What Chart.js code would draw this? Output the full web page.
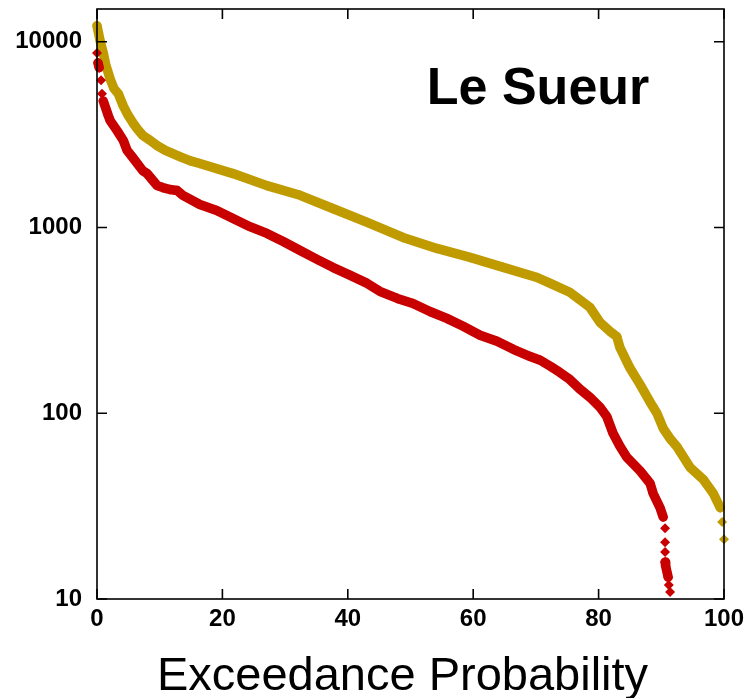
<!DOCTYPE html>
<html>
<head>
<meta charset="utf-8">
<script src="https://cdn.jsdelivr.net/npm/chart.js@4/dist/chart.umd.min.js"></script>
<style>
  html, body { margin: 0; padding: 0; background: #fff; }
  #wrap { width: 749px; height: 698px; }
</style>
</head>
<body>
<div id="wrap"><canvas id="c"></canvas></div>
<script>
// Exceedance curves (x = exceedance %, y = value, log axis)
const goldProb = [0, 0.5, 1.0, 1.4, 2.1, 2.7, 3.4, 4.2, 4.9, 5.7, 6.5, 7.3, 8.5, 9.6, 10.9, 12.1, 13.2, 14.8, 16.4,
  21.7, 27.1, 32.4, 37.6, 43.1, 48.8, 54.2, 59.5, 64.8, 70.2, 72.3, 75.4, 78.6, 80.2, 81.8, 82.9, 83.4, 85.0,
  86.6, 88.2, 89.3, 90.3, 91.4, 92.5, 94.6, 96.7, 98.3, 99.4, 99.7, 100];
const goldVals = [12200, 10100, 8700, 7500, 6300, 5600, 5250, 4500, 4050, 3670, 3370, 3130, 2940, 2760, 2600, 2500, 2410, 2290, 2210,
  1950, 1680, 1490, 1265, 1064, 884, 771, 690, 610, 538, 500, 448, 372, 309, 276, 259, 226, 175,
  143, 115, 100, 83, 73, 66, 51, 44, 37, 31, 26, 21];

const redProb = [0, 0.15, 0.35, 0.65, 0.8, 1.0, 1.8, 2.1, 3.2, 4.2, 4.8, 5.7, 7.3, 8.0, 9.6, 10.5, 11.6, 12.8, 13.7, 16.4,
  19.1, 21.7, 24.4, 27.1, 29.7, 32.4, 35.1, 37.6, 40.4, 43.1, 45.1, 47.9, 50.4, 53.1, 55.8, 58.4, 61.1, 63.8,
  66.4, 69.1, 70.7, 72.3, 73.8, 75.4, 77.0, 78.6, 80.2, 81.3, 82.3, 83.4, 84.5, 86.6, 88.2, 88.7, 89.8, 90.3,
  90.6, 90.6, 90.6, 90.6, 90.7, 91.1, 91.2, 91.4];
const redVals = [8700, 7700, 7250, 6200, 5250, 4800, 4000, 3760, 3320, 2940, 2600, 2380, 2020, 1950, 1680, 1640, 1600, 1580, 1490, 1330,
  1235, 1117, 1010, 929, 841, 752, 673, 610, 552, 500, 453, 415, 390, 353, 324, 294, 263, 244,
  221, 202, 193, 179, 166, 152, 135, 122, 108, 96, 78, 66.5, 58, 49, 42, 37, 31, 27.6,
  24, 20.2, 17.9, 15.8, 15.0, 13.1, 11.9, 10.9];

const xTicks = [0, 20, 40, 60, 80, 100];
const yTicks = [10, 100, 1000, 10000];
const PLOT_LABEL = "Le Sueur";
const X_TITLE = "Exceedance Probability";

const GOLD = "#bf9b00";
const RED = "#c80000";
const FONT = '"Liberation Sans", Arial, Helvetica, sans-serif';
const TICK_LEN = 10;

// hide the joining line where the points break up into separate diamonds
function isGap(ctx) {
  return Math.abs(ctx.p1.x - ctx.p0.x) < 2 && Math.abs(ctx.p1.y - ctx.p0.y) > 6;
}

function series(label, probs, vals, color) {
  return {
    label,
    data: probs.map((p, i) => ({ x: p, y: vals[i] })),
    showLine: true,
    borderColor: color,
    backgroundColor: color,
    borderWidth: 9.5,
    borderJoinStyle: "round",
    borderCapStyle: "round",
    pointStyle: "rectRot",
    pointRadius: 5,
    pointBorderWidth: 0,
    clip: false,
    segment: { borderColor: ctx => (isGap(ctx) ? "transparent" : undefined) }
  };
}

// gnuplot-like frame: border box, inward ticks mirrored on all sides, labels
const frameTicks = {
  id: "frameTicks",
  afterDatasetsDraw(chart) {
    const { ctx, chartArea: a, scales: { x, y } } = chart;
    ctx.save();
    ctx.strokeStyle = "#000";
    ctx.lineWidth = 1.6;
    ctx.strokeRect(a.left, a.top, a.right - a.left, a.bottom - a.top);
    ctx.beginPath();
    for (const v of xTicks) {
      const px = x.getPixelForValue(v);
      ctx.moveTo(px, a.bottom); ctx.lineTo(px, a.bottom - TICK_LEN);
      ctx.moveTo(px, a.top); ctx.lineTo(px, a.top + TICK_LEN);
    }
    for (const v of yTicks) {
      const py = y.getPixelForValue(v);
      ctx.moveTo(a.left, py); ctx.lineTo(a.left + TICK_LEN, py);
      ctx.moveTo(a.right, py); ctx.lineTo(a.right - TICK_LEN, py);
    }
    ctx.stroke();
    ctx.fillStyle = "#000";
    ctx.font = "bold 52px " + FONT;
    ctx.textBaseline = "alphabetic";
    ctx.textAlign = "left";
    ctx.fillText(PLOT_LABEL, a.left + 0.526 * (a.right - a.left), a.top + 95);
    // x axis title, sits a little left of the plot centre in the original
    ctx.font = "47px " + FONT;
    ctx.textAlign = "center";
    ctx.textBaseline = "middle";
    ctx.fillText(X_TITLE, (a.left + a.right) / 2 - 8, chart.height - 21);
    ctx.restore();
  }
};

new Chart(document.getElementById("c"), {
  type: "scatter",
  data: {
    datasets: [series("red", redProb, redVals, RED), series("gold", goldProb, goldVals, GOLD)]
  },
  options: {
    responsive: true,
    maintainAspectRatio: false,
    animation: false,
    layout: { padding: { top: 9, right: 25, bottom: 0, left: 0 } },
    plugins: { legend: { display: false }, tooltip: { enabled: false } },
    scales: {
      x: {
        type: "linear",
        min: 0,
        max: 100,
        border: { display: false },
        grid: { display: false, drawTicks: false },
        afterBuildTicks: s => { s.ticks = xTicks.map(v => ({ value: v })); },
        afterFit: s => { s.height = 99; s.paddingLeft = 0; s.paddingRight = 0; },
        ticks: { padding: 6, color: "#000", font: { family: FONT, size: 24, weight: "bold" }, maxRotation: 0 }
      },
      y: {
        type: "logarithmic",
        min: 10,
        max: 15000,
        border: { display: false },
        grid: { display: false, drawTicks: false },
        afterBuildTicks: s => { s.ticks = yTicks.map(v => ({ value: v })); },
        afterFit: s => { s.width = 97; s.paddingTop = 0; s.paddingBottom = 0; },
        ticks: {
          padding: 15,
          color: "#000",
          font: { family: FONT, size: 24, weight: "bold" },
          callback: v => String(v)
        }
      }
    }
  },
  plugins: [frameTicks]
});
</script>
</body>
</html>
